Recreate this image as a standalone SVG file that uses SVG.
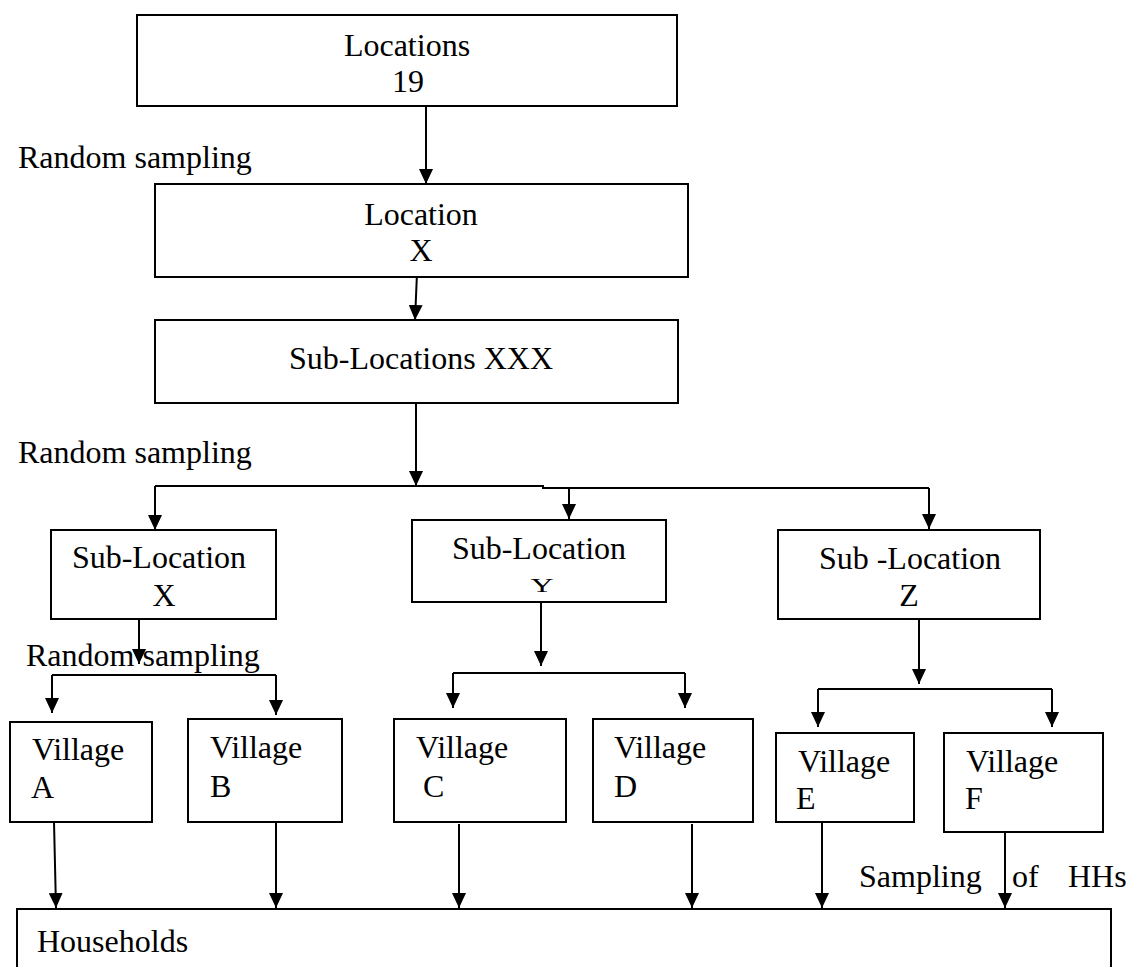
<svg xmlns="http://www.w3.org/2000/svg" width="1129" height="967" viewBox="0 0 1129 967">
<style>
.box{fill:#fff;stroke:#000;stroke-width:2}
.t{font-family:"Liberation Serif","Times New Roman",serif;font-size:32px;fill:#000}
.c{text-anchor:middle}
.ln{fill:none;stroke:#000;stroke-width:2}
.ar{fill:none;stroke:#000;stroke-width:2;marker-end:url(#ah)}
</style>
<defs>
<marker id="ah" markerWidth="15" markerHeight="14" viewBox="0 0 15 14" refX="15" refY="7" orient="auto" markerUnits="userSpaceOnUse"><path d="M0,0 L15,7 L0,14 z" fill="#000"/></marker>
</defs>
<rect x="0" y="0" width="1129" height="967" fill="#fff"/>
<g id="connectors">
<line class="ar" x1="426" y1="106" x2="426" y2="184"/>
<line class="ar" x1="417" y1="273" x2="415" y2="320"/>
<line class="ar" x1="416" y1="403" x2="416" y2="486"/>
<path class="ln" d="M155,486 H543 V488 H929"/>
<line class="ar" x1="155" y1="486" x2="155" y2="530"/>
<line class="ar" x1="569" y1="488" x2="569" y2="519"/>
<line class="ar" x1="929" y1="488" x2="929" y2="529"/>
<line class="ar" x1="139" y1="616" x2="139" y2="664"/>
<path class="ln" d="M52,675 H276"/>
<line class="ar" x1="52" y1="675" x2="52" y2="713"/>
<line class="ar" x1="276" y1="675" x2="276" y2="715"/>
<line class="ar" x1="541" y1="602" x2="541" y2="666"/>
<path class="ln" d="M453,673 H685"/>
<line class="ar" x1="453" y1="673" x2="453" y2="708"/>
<line class="ar" x1="685" y1="673" x2="685" y2="708"/>
<line class="ar" x1="919" y1="619" x2="919" y2="684"/>
<path class="ln" d="M818,689 H1052"/>
<line class="ar" x1="818" y1="689" x2="818" y2="727"/>
<line class="ar" x1="1052" y1="689" x2="1052" y2="727"/>
<line class="ar" x1="54" y1="822" x2="56" y2="908"/>
<line class="ar" x1="276" y1="822" x2="276" y2="908"/>
<line class="ar" x1="459" y1="824" x2="459" y2="908"/>
<line class="ar" x1="692" y1="824" x2="692" y2="908"/>
<line class="ar" x1="822" y1="822" x2="822" y2="908"/>
<line class="ar" x1="1005" y1="832" x2="1005" y2="908"/>
</g>
<g id="labels">
<text class="t" x="18" y="168">Random sampling</text>
<text class="t" x="18" y="463">Random sampling</text>
<text class="t" x="859" y="887">Sampling</text>
<text class="t" x="1012" y="887">of</text>
<text class="t" x="1068" y="887">HHs</text>
</g>
<g id="n-locations">
<rect class="box" x="137" y="15" width="540" height="91"/>
<text class="t c" x="407" y="56">Locations</text>
<text class="t c" x="408" y="92">19</text>
</g>
<g id="n-location-x">
<rect class="box" x="155" y="184" width="533" height="93"/>
<text class="t c" x="421" y="225">Location</text>
<text class="t c" x="421" y="261">X</text>
</g>
<g id="n-sublocations">
<rect class="box" x="155" y="320" width="523" height="83"/>
<text class="t c" x="421" y="369">Sub-Locations XXX</text>
</g>
<g id="n-sub-x">
<rect class="box" x="51" y="530" width="225" height="89"/>
<text class="t c" x="159" y="568">Sub-Location</text>
<text class="t c" x="164" y="606">X</text>
</g>
<g id="n-sub-y">
<rect class="box" x="412" y="520" width="254" height="82"/>
<text class="t c" x="539" y="559">Sub-Location</text>
<text class="t c" transform="translate(542,592) scale(1,0.58)">Y</text>
</g>
<g id="n-sub-z">
<rect class="box" x="778" y="530" width="262" height="89"/>
<text class="t c" x="910" y="569">Sub -Location</text>
<text class="t c" x="909" y="606">Z</text>
</g>
<text class="t" x="26" y="666">Random sampling</text>
<g id="n-village-a">
<rect class="box" x="10" y="722" width="142" height="100"/>
<text class="t" x="32" y="760">Village</text>
<text class="t" x="31" y="798">A</text>
</g>
<g id="n-village-b">
<rect class="box" x="188" y="719" width="154" height="103"/>
<text class="t" x="210" y="758">Village</text>
<text class="t" x="210" y="797">B</text>
</g>
<g id="n-village-c">
<rect class="box" x="394" y="719" width="172" height="103"/>
<text class="t" x="416" y="758">Village</text>
<text class="t" x="423" y="797">C</text>
</g>
<g id="n-village-d">
<rect class="box" x="593" y="719" width="160" height="103"/>
<text class="t" x="614" y="758">Village</text>
<text class="t" x="614" y="797">D</text>
</g>
<g id="n-village-e">
<rect class="box" x="776" y="733" width="138" height="89"/>
<text class="t" x="798" y="772">Village</text>
<text class="t" x="796" y="809">E</text>
</g>
<g id="n-village-f">
<rect class="box" x="944" y="733" width="159" height="99"/>
<text class="t" x="966" y="772">Village</text>
<text class="t" x="965" y="809">F</text>
</g>
<g id="n-households">
<rect class="box" x="17" y="909" width="1094" height="70"/>
<text class="t" x="37" y="952">Households</text>
</g>
</svg>
